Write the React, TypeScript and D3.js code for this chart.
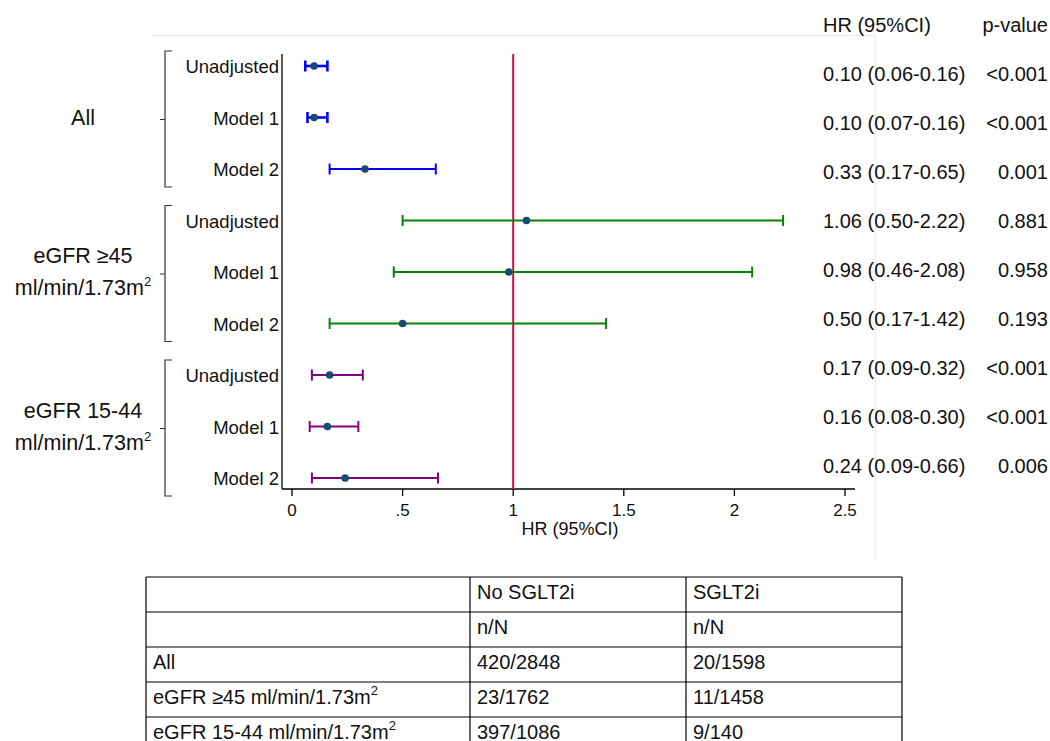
import React from 'react';
import * as d3 from 'd3';

// forest plot values
const models = ['Unadjusted', 'Model 1', 'Model 2'];
const groupTitles = [['All'], ['eGFR ≥45', 'ml/min/1.73m'], ['eGFR 15-44', 'ml/min/1.73m']];
const groupColors = ['#0000ff', '#0a800a', '#800080'];

const hrAll = [0.10, 0.10, 0.33];
const loAll = [0.06, 0.07, 0.17];
const hiAll = [0.16, 0.16, 0.65];
const pAll = ['<0.001', '<0.001', '0.001'];

const hrHigh = [1.06, 0.98, 0.50];
const loHigh = [0.50, 0.46, 0.17];
const hiHigh = [2.22, 2.08, 1.42];
const pHigh = ['0.881', '0.958', '0.193'];

const hrLow = [0.17, 0.16, 0.24];
const loLow = [0.09, 0.08, 0.09];
const hiLow = [0.32, 0.30, 0.66];
const pLow = ['<0.001', '<0.001', '0.006'];

const xTicks = [0, 0.5, 1, 1.5, 2, 2.5];

// n/N table under the plot
const tableHeader = ['', 'No SGLT2i', 'SGLT2i'];
const tableSub = ['', 'n/N', 'n/N'];
const tableRowLabels = ['All', 'eGFR ≥45 ml/min/1.73m', 'eGFR 15-44 ml/min/1.73m'];
const noSglt2 = ['420/2848', '23/1762', '397/1086'];
const sglt2 = ['20/1598', '11/1458', '9/140'];

const FONT = '"Liberation Sans", Arial, Helvetica, sans-serif';

const App: React.FC = () => {
  const width = 1050;
  const height = 741;

  const hrs = [hrAll, hrHigh, hrLow];
  const los = [loAll, loHigh, loLow];
  const his = [hiAll, hiHigh, hiLow];
  const ps = [pAll, pHigh, pLow];

  const rows = groupTitles.flatMap((_, g) =>
    models.map((m, i) => ({
      id: `${g}-${i}`,
      group: g,
      model: m,
      hr: hrs[g][i],
      lo: los[g][i],
      hi: his[g][i],
      p: ps[g][i],
    }))
  );

  const x = d3.scaleLinear().domain([0, 2.5]).range([292, 845]);
  const y = d3.scalePoint<string>().domain(rows.map(r => r.id)).range([66, 478]);
  const yText = d3.scalePoint<string>().domain(rows.map(r => r.id)).range([74, 466]);

  const axisY = 489;
  const tickFmt = (d: number) => String(d).replace(/^0\./, '.');
  const fmt2 = d3.format('.2f');

  // table geometry
  const colX = [146, 470, 686, 902];
  const tableTop = 577;
  const rowH = 35;
  const tableRows = [
    tableHeader,
    tableSub,
    ...tableRowLabels.map((l, i) => [l, noSglt2[i], sglt2[i]]),
  ];

  return (
    <div style={{ position: 'absolute', left: 0, top: 0 }}>
      <svg width={width} height={height} style={{ display: 'block', background: '#fff' }} fontFamily={FONT}>
        {/* faint panel border */}
        <path d="M152,35.5H875.5V560" fill="none" stroke="#edf0f3" strokeWidth={1.5} />

        {/* headers */}
        <text x={823} y={32} fontSize={20} fill="#111">HR (95%CI)</text>
        <text x={1048} y={32} fontSize={20} fill="#111" textAnchor="end">p-value</text>

        {/* plot frame */}
        <line x1={282} x2={282} y1={54} y2={axisY} stroke="#000" strokeWidth={1.3} />
        <line x1={282} x2={855} y1={axisY} y2={axisY} stroke="#000" strokeWidth={1.3} />
        {xTicks.map(t => (
          <g key={t}>
            <line x1={x(t)} x2={x(t)} y1={axisY} y2={axisY + 7} stroke="#000" strokeWidth={1.3} />
            <text x={x(t)} y={axisY + 27} fontSize={17} textAnchor="middle" fill="#111">{tickFmt(t)}</text>
          </g>
        ))}
        <text x={570} y={535} fontSize={18} textAnchor="middle" fill="#111">HR (95%CI)</text>

        {/* reference line at HR = 1 */}
        <line x1={x(1)} x2={x(1)} y1={54} y2={axisY} stroke="#c8103c" strokeWidth={2} />

        {/* group brackets and titles */}
        {groupTitles.map((lines, g) => {
          const ids = models.map((_, i) => `${g}-${i}`);
          const top = (y(ids[0]) as number) - 15;
          const bot = (y(ids[2]) as number) + 18;
          const mid = y(ids[1]) as number;
          const lineGap = 32;
          const start = mid - ((lines.length - 1) * lineGap) / 2 + 7;
          return (
            <g key={g}>
              <path
                d={`M172,${top}H165V${bot}H172M165,${mid + 2}H160`}
                fill="none"
                stroke="#333"
                strokeWidth={1.2}
              />
              {lines.map((l, k) => (
                <text key={k} x={83} y={start + k * lineGap} fontSize={21.5} textAnchor="middle" fill="#111">
                  {l}
                  {k === 1 && <tspan fontSize={13} dy={-9}>2</tspan>}
                </text>
              ))}
            </g>
          );
        })}

        {/* rows */}
        {rows.map(r => {
          const yy = y(r.id) as number;
          const color = groupColors[r.group];
          const w = r.group === 0 && r.model !== 'Model 2' ? 2.6 : 2;
          return (
            <g key={r.id}>
              <text x={279} y={yy + 7} fontSize={18.5} textAnchor="end" fill="#111">{r.model}</text>
              <line x1={x(r.lo)} x2={x(r.hi)} y1={yy} y2={yy} stroke={color} strokeWidth={w} />
              <line x1={x(r.lo)} x2={x(r.lo)} y1={yy - 5.5} y2={yy + 5.5} stroke={color} strokeWidth={w} />
              <line x1={x(r.hi)} x2={x(r.hi)} y1={yy - 5.5} y2={yy + 5.5} stroke={color} strokeWidth={w} />
              <circle cx={x(r.hr)} cy={yy} r={3.8} fill="#1a4a73" />
              <text x={823} y={(yText(r.id) as number) + 7} fontSize={20} fill="#111">
                {`${fmt2(r.hr)} (${fmt2(r.lo)}-${fmt2(r.hi)})`}
              </text>
              <text x={1048} y={(yText(r.id) as number) + 7} fontSize={20} fill="#111" textAnchor="end">
                {r.p}
              </text>
            </g>
          );
        })}

        {/* table */}
        <g>
          {tableRows.map((cells, ri) => {
            const top = tableTop + ri * rowH;
            return (
              <g key={ri}>
                <line x1={colX[0]} x2={colX[3]} y1={top} y2={top} stroke="#000" strokeWidth={1.2} />
                {cells.map((c, ci) => (
                  <text key={ci} x={colX[ci] + 7} y={top + rowH / 2 + 4.5} fontSize={20} fill="#111">
                    {c}
                    {ci === 0 && ri >= 3 && <tspan fontSize={13} dy={-9}>2</tspan>}
                  </text>
                ))}
              </g>
            );
          })}
          <line x1={colX[0]} x2={colX[3]} y1={tableTop + tableRows.length * rowH} y2={tableTop + tableRows.length * rowH} stroke="#000" strokeWidth={1.2} />
          {colX.map((cx, i) => (
            <line key={i} x1={cx} x2={cx} y1={tableTop} y2={tableTop + tableRows.length * rowH} stroke="#000" strokeWidth={1.2} />
          ))}
        </g>
      </svg>
    </div>
  );
};

export default App;
